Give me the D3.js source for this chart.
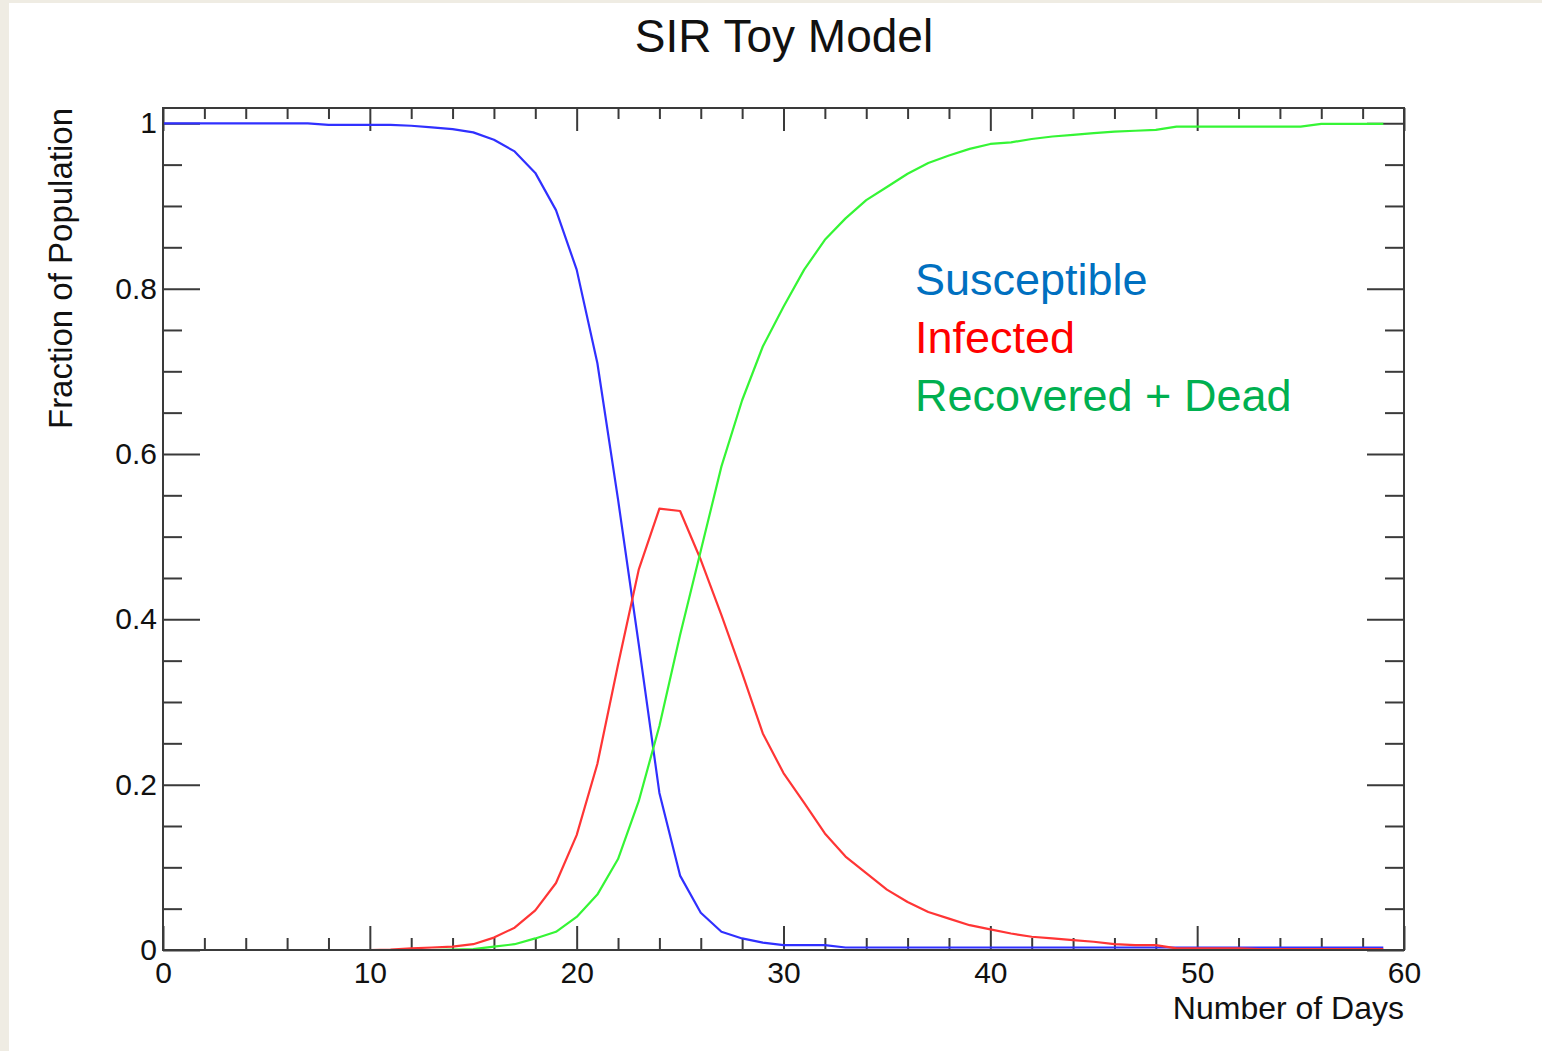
<!DOCTYPE html>
<html>
<head>
<meta charset="utf-8">
<title>SIR Toy Model</title>
<script src="https://cdn.jsdelivr.net/npm/d3@7"></script>
<style>
    body { margin: 0; background: #efece3; }
    svg { display: block; }
    text { font-family: 'Liberation Sans', Arial, Helvetica, sans-serif; }
</style>
</head>
<body>
<div id="chart"></div>
<script>
// day index of every sample
const days = [
    0, 1, 2, 3, 4, 5, 6, 7, 8, 9, 10, 11, 12, 13, 14, 15, 16, 17, 18, 19,
    20, 21, 22, 23, 24, 25, 26, 27, 28, 29, 30, 31, 32, 33, 34, 35, 36, 37, 38, 39,
    40, 41, 42, 43, 44, 45, 46, 47, 48, 49, 50, 51, 52, 53, 54, 55, 56, 57, 58, 59
];

const susceptible = [
    1, 1, 1, 1, 1, 1, 1, 1, 0.998, 0.998,
    0.998, 0.998, 0.997, 0.995, 0.993, 0.989, 0.980, 0.966, 0.940, 0.895,
    0.823, 0.710, 0.545, 0.370, 0.190, 0.090, 0.045, 0.022, 0.014, 0.009,
    0.006, 0.006, 0.006, 0.003, 0.003, 0.003, 0.003, 0.003, 0.003, 0.003,
    0.003, 0.003, 0.003, 0.003, 0.003, 0.003, 0.003, 0.003, 0.003, 0.003,
    0.003, 0.003, 0.003, 0.003, 0.003, 0.003, 0.003, 0.003, 0.003, 0.003
];

const infected = [
    0, 0, 0, 0, 0, 0, 0, 0, 0, 0,
    0, 0.0005, 0.002, 0.003, 0.004, 0.007, 0.015, 0.027, 0.048, 0.081,
    0.139, 0.225, 0.345, 0.460, 0.534, 0.531, 0.472, 0.405, 0.335, 0.262,
    0.214, 0.178, 0.141, 0.113, 0.093, 0.073, 0.058, 0.046, 0.038, 0.030,
    0.025, 0.020, 0.016, 0.014, 0.012, 0.010, 0.007, 0.006, 0.006, 0.002,
    0.002, 0.002, 0.002, 0.001, 0.001, 0.001, 0.001, 0.001, 0.001, 0.001
];

const recovered = [
    0, 0, 0, 0, 0, 0, 0, 0, 0, 0,
    0, 0, 0, 0, 0.0005, 0.001, 0.004, 0.007, 0.014, 0.022,
    0.040, 0.067, 0.110, 0.180, 0.271, 0.381, 0.483, 0.585, 0.665, 0.730,
    0.778, 0.823, 0.859, 0.885, 0.907, 0.923, 0.939, 0.952, 0.961, 0.969,
    0.975, 0.977, 0.981, 0.984, 0.986, 0.988, 0.990, 0.991, 0.992, 0.996,
    0.996, 0.996, 0.996, 0.996, 0.996, 0.996, 0.9994, 0.9994, 0.9994, 0.9994
];

const xMajorTicks = [0, 10, 20, 30, 40, 50, 60];
const xMinorTicks = [2, 4, 6, 8, 12, 14, 16, 18, 22, 24, 26, 28, 32, 34, 36, 38, 42, 44, 46, 48, 52, 54, 56, 58];
const yMajorTicks = [0, 0.2, 0.4, 0.6, 0.8, 1];
const yMinorTicks = [0.05, 0.1, 0.15, 0.25, 0.3, 0.35, 0.45, 0.5, 0.55, 0.65, 0.7, 0.75, 0.85, 0.9, 0.95];

const seriesNames = ['Susceptible', 'Infected', 'Recovered + Dead'];
const lineColors = ['#3030ff', '#ff3535', '#35f535'];
const legendColors = ['#0070c0', '#ff0000', '#00b050'];

const width = 1542;
const height = 1051;
const frame = {left: 163, right: 1404, top: 108, bottom: 950};
const axisColor = '#3a3a3a';

const svg = d3.select('#chart').append('svg')
    .attr('width', width)
    .attr('height', height);

// screenshot border, then the white canvas
svg.append('rect')
    .attr('x', 9)
    .attr('y', 3)
    .attr('width', width - 9)
    .attr('height', height - 3)
    .attr('fill', '#ffffff');

let x = d3.scaleLinear()
    .domain([0, 60])
    .range([frame.left, frame.right]);
let y = d3.scaleLinear()
    .domain([0, 1.0185])
    .range([frame.bottom, frame.top]);

const styleAxis = (g) => {
    g.select('.domain').remove();
    g.selectAll('line').attr('stroke', axisColor).attr('stroke-width', 2);
    g.selectAll('text')
        .attr('fill', '#111')
        .style('font-size', '30px')
        .style('font-family', '\'Liberation Sans\', Arial, sans-serif');
};

// bottom axis: labels + ticks pointing inward
svg.append('g')
    .attr('transform', 'translate(0,' + frame.bottom + ')')
    .call(d3.axisBottom(x).tickValues(xMajorTicks).tickSize(-24).tickPadding(12).tickFormat(d3.format('~g')))
    .call(styleAxis);
svg.append('g')
    .attr('transform', 'translate(0,' + frame.bottom + ')')
    .call(d3.axisBottom(x).tickValues(xMinorTicks).tickSize(-12).tickFormat(''))
    .call(styleAxis);

// top axis, ticks only
svg.append('g')
    .attr('transform', 'translate(0,' + frame.top + ')')
    .call(d3.axisTop(x).tickValues(xMajorTicks).tickSize(-23).tickFormat(''))
    .call(styleAxis);
svg.append('g')
    .attr('transform', 'translate(0,' + frame.top + ')')
    .call(d3.axisTop(x).tickValues(xMinorTicks).tickSize(-11).tickFormat(''))
    .call(styleAxis);

// left axis
svg.append('g')
    .attr('transform', 'translate(' + frame.left + ',0)')
    .call(d3.axisLeft(y).tickValues(yMajorTicks).tickSize(-37).tickPadding(6).tickFormat(d3.format('~g')))
    .call(styleAxis);
svg.append('g')
    .attr('transform', 'translate(' + frame.left + ',0)')
    .call(d3.axisLeft(y).tickValues(yMinorTicks).tickSize(-19).tickFormat(''))
    .call(styleAxis);

// right axis, ticks only
svg.append('g')
    .attr('transform', 'translate(' + frame.right + ',0)')
    .call(d3.axisRight(y).tickValues(yMajorTicks).tickSize(-37).tickFormat(''))
    .call(styleAxis);
svg.append('g')
    .attr('transform', 'translate(' + frame.right + ',0)')
    .call(d3.axisRight(y).tickValues(yMinorTicks).tickSize(-19).tickFormat(''))
    .call(styleAxis);

// curves
const line = d3.line()
    .x(d => x(d.day))
    .y(d => y(d.value));

[susceptible, infected, recovered].forEach((values, i) => {
    svg.append('path')
        .datum(days.map((day, j) => ({day, value: values[j]})))
        .attr('fill', 'none')
        .attr('stroke', lineColors[i])
        .attr('stroke-width', 2.2)
        .attr('stroke-linejoin', 'round')
        .attr('d', line);
});

// frame
svg.append('rect')
    .attr('x', frame.left)
    .attr('y', frame.top)
    .attr('width', frame.right - frame.left)
    .attr('height', frame.bottom - frame.top)
    .attr('fill', 'none')
    .attr('stroke', axisColor)
    .attr('stroke-width', 2);

// title and axis titles
svg.append('text')
    .attr('x', 784)
    .attr('y', 52)
    .attr('text-anchor', 'middle')
    .style('font-size', '46px')
    .attr('fill', '#111')
    .text('SIR Toy Model');

svg.append('text')
    .attr('x', frame.right)
    .attr('y', 1019)
    .attr('text-anchor', 'end')
    .style('font-size', '32px')
    .attr('fill', '#111')
    .text('Number of Days');

svg.append('text')
    .attr('transform', 'translate(72,' + frame.top + ')rotate(-90)')
    .attr('text-anchor', 'end')
    .style('font-size', '33px')
    .attr('fill', '#111')
    .text('Fraction of Population');

// legend text block
svg.append('g')
    .selectAll('text')
    .data(seriesNames)
    .enter().append('text')
    .attr('x', 915)
    .attr('y', (d, i) => 295 + i * 58)
    .style('font-size', '45px')
    .attr('fill', (d, i) => legendColors[i])
    .text(d => d);
</script>
</body>
</html>
